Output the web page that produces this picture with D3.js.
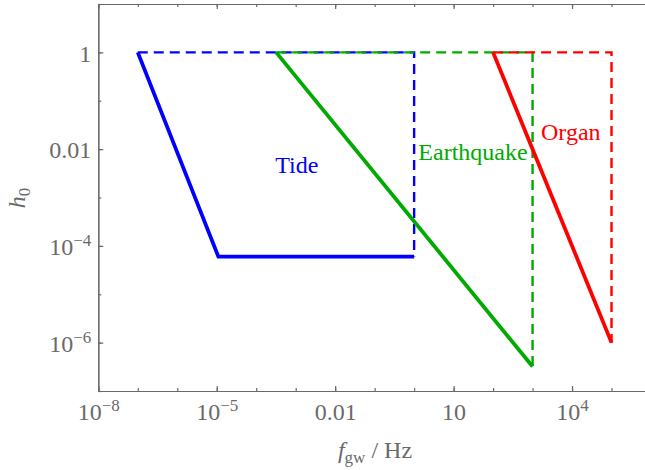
<!DOCTYPE html>
<html>
<head>
<meta charset="utf-8">
<script src="https://cdn.jsdelivr.net/npm/d3@7"></script>
<style>
  body { margin: 0; background: #fff; }
  svg { display: block; font-family: "Liberation Serif", "Times New Roman", serif; }
</style>
</head>
<body>
<div id="chart"></div>
<script>
// frequency [Hz] and strain amplitude h0 of each source band
const tideF = [1e-7, 1.1e-5, 1];
const tideH = [1, 6e-5, 6e-5];
const tideBoxF = [1e-7, 1, 1];
const tideBoxH = [1, 1, 6e-5];
const quakeF = [3.2e-4, 1e3];
const quakeH = [1, 3.2e-7];
const quakeBoxF = [3.2e-4, 1e3, 1e3];
const quakeBoxH = [1, 1, 3.2e-7];
const organF = [100, 1e5];
const organH = [1, 1e-6];
const organBoxF = [100, 1e5, 1e5];
const organBoxH = [1, 1, 1e-6];

const labelNames = ["Tide", "Earthquake", "Organ"];
const labelF = [1.07e-3, 31, 9.3e3];
const labelH = [3.2e-3, 6e-3, 1.55e-2];

// ticks
const xTicks = [1e-8, 1e-5, 1e-2, 1e1, 1e4];
const xTickBase = ["10", "10", "0.01", "10", "10"];
const xTickExp = ["\u22128", "\u22125", "", "", "4"];
const yTicks = [1, 1e-2, 1e-4, 1e-6];
const yTickBase = ["1", "0.01", "10", "10"];
const yTickExp = ["", "", "\u22124", "\u22126"];
const xMinor = d3.range(-8, 7).map(e => Math.pow(10, e));
const yMinor = d3.range(-7, 2).map(e => Math.pow(10, e));

const width = 645, height = 470;
const axisColor = "#6a6a6a";
const colors = ["#0000ff", "#00aa00", "#ff0000"];

const series = [
    { solid: [tideF, tideH], dashed: [tideBoxF, tideBoxH] },
    { solid: [quakeF, quakeH], dashed: [quakeBoxF, quakeBoxH] },
    { solid: [organF, organH], dashed: [organBoxF, organBoxH] }
];

const svg = d3.select("#chart")
    .append("svg")
    .attr("width", width)
    .attr("height", height);

const x = d3.scaleLog().domain([1e-8, 1e6]).range([98.3, 651]);
const y = d3.scaleLog().domain([1e-7, 10]).range([391, 4]);

const line = d3.line()
    .x(d => x(d[0]))
    .y(d => y(d[1]));

// Axes: minor ticks first, then the major ones on top
function styleAxis(g) {
    g.attr("font-family", null).attr("font-size", null);
    g.selectAll("path, line").attr("stroke", axisColor).attr("stroke-width", 1.2);
    g.select(".domain").attr("fill", "none");
}

svg.append("g")
    .attr("transform", `translate(0,${y.range()[0]})`)
    .call(d3.axisBottom(x).tickValues(xMinor).tickSize(-3).tickSizeOuter(0).tickFormat(""))
    .call(styleAxis);
svg.append("g")
    .attr("transform", `translate(0,${y.range()[1]})`)
    .call(d3.axisTop(x).tickValues(xMinor).tickSize(-3).tickSizeOuter(0).tickFormat(""))
    .call(styleAxis);
svg.append("g")
    .attr("transform", `translate(0,${y.range()[1]})`)
    .call(d3.axisTop(x).tickValues(xTicks).tickSize(-5).tickSizeOuter(0).tickFormat(""))
    .call(styleAxis);
svg.append("g")
    .attr("transform", `translate(${x.range()[0]},0)`)
    .call(d3.axisLeft(y).tickValues(yMinor).tickSize(-3).tickSizeOuter(0).tickFormat(""))
    .call(styleAxis);

const xAxis = svg.append("g")
    .attr("transform", `translate(0,${y.range()[0]})`)
    .call(d3.axisBottom(x).tickValues(xTicks).tickSize(-5).tickSizeOuter(0).tickPadding(12)
        .tickFormat((d, i) => xTickBase[i]))
    .call(styleAxis);
xAxis.selectAll("text")
    .attr("font-size", 24)
    .attr("fill", axisColor)
    .each(function(d, i) {
        if (xTickExp[i]) {
            d3.select(this).append("tspan").attr("dy", -9).attr("font-size", 17).text(xTickExp[i]);
        }
    });

const yAxis = svg.append("g")
    .attr("transform", `translate(${x.range()[0]},0)`)
    .call(d3.axisLeft(y).tickValues(yTicks).tickSize(-5).tickSizeOuter(0).tickPadding(7)
        .tickFormat((d, i) => yTickBase[i]))
    .call(styleAxis);
yAxis.selectAll("text")
    .attr("font-size", 24)
    .attr("fill", axisColor)
    .attr("dy", "0.36em")
    .each(function(d, i) {
        if (yTickExp[i]) {
            d3.select(this).append("tspan").attr("dy", -9).attr("font-size", 17).text(yTickExp[i]);
        }
    });

// Series: dashed range boxes, then solid bounds
series.forEach((s, i) => {
    svg.append("path")
        .datum(d3.zip(s.dashed[0], s.dashed[1]))
        .attr("d", line)
        .attr("fill", "none")
        .attr("stroke", colors[i])
        .attr("stroke-width", 2.4)
        .attr("stroke-dasharray", "10,6");
});
series.forEach((s, i) => {
    svg.append("path")
        .datum(d3.zip(s.solid[0], s.solid[1]))
        .attr("d", line)
        .attr("fill", "none")
        .attr("stroke", colors[i])
        .attr("stroke-width", 3.8)
        .attr("stroke-linejoin", "miter");
});

// Source labels
svg.selectAll(".src-label")
    .data(labelNames)
    .enter()
    .append("text")
    .attr("class", "src-label")
    .attr("x", (d, i) => x(labelF[i]))
    .attr("y", (d, i) => y(labelH[i]))
    .attr("text-anchor", "middle")
    .attr("font-size", 24)
    .attr("fill", (d, i) => colors[i])
    .text(d => d);

// Axis titles
const xTitle = svg.append("text")
    .attr("x", 375)
    .attr("y", 458)
    .attr("text-anchor", "middle")
    .attr("font-size", 24)
    .attr("fill", axisColor);
xTitle.append("tspan").attr("font-style", "italic").text("f");
xTitle.append("tspan").attr("font-size", 17).attr("dy", 5).text("gw");
xTitle.append("tspan").attr("dy", -5).text(" / Hz");

const yTitle = svg.append("text")
    .attr("transform", "translate(25,198) rotate(-90)")
    .attr("text-anchor", "middle")
    .attr("font-size", 24)
    .attr("fill", axisColor);
yTitle.append("tspan").attr("font-style", "italic").text("h");
yTitle.append("tspan").attr("font-size", 17).attr("dy", 5).text("0");
</script>
</body>
</html>
